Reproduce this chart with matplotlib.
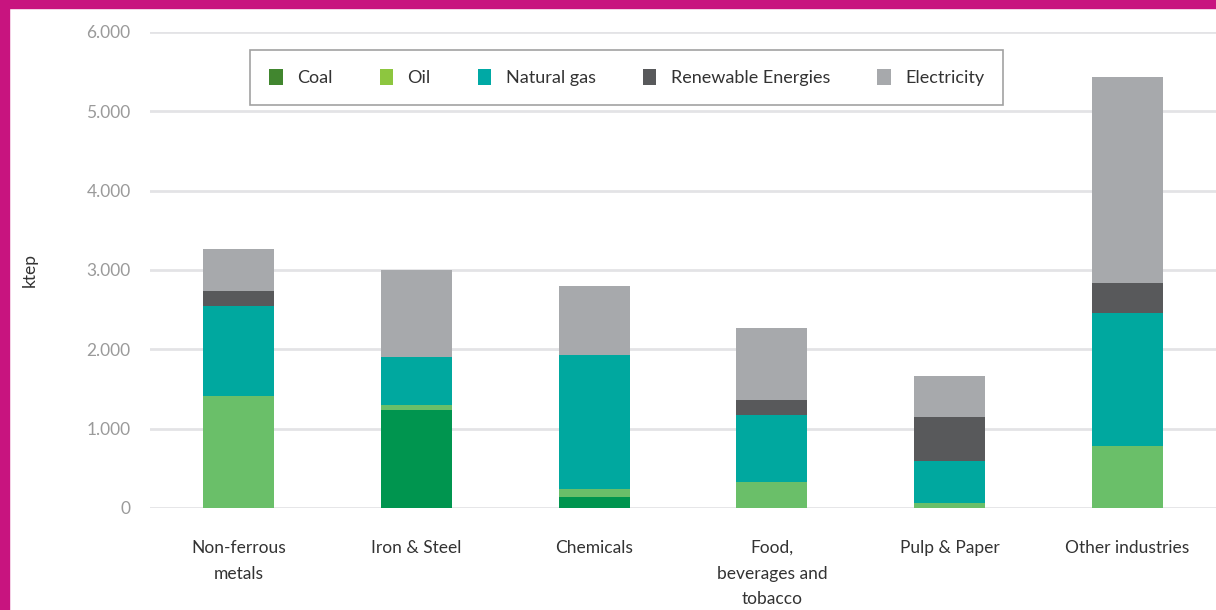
import matplotlib
matplotlib.use("Agg")
import matplotlib.pyplot as plt
from matplotlib.patches import Patch, Rectangle
from matplotlib.ticker import FuncFormatter
import numpy as np

# Final energy consumption by industry sector (ktep)
sectors = ["Non-ferrous\nmetals", "Iron & Steel", "Chemicals",
           "Food,\nbeverages and\ntobacco", "Pulp & Paper", "Other industries"]
coal = [0, 1236, 140, 0, 0, 0]
oil = [1412, 64, 100, 328, 60, 782]
natural_gas = [1135, 604, 1690, 845, 530, 1678]
renewables = [189, 0, 0, 189, 560, 377]
electricity = [529, 1096, 870, 908, 515, 2598]

series = [("Coal", coal, "#00954f", "#41862f"),
          ("Oil", oil, "#6abf69", "#8dc63f"),
          ("Natural gas", natural_gas, "#00a89f", "#00a9a5"),
          ("Renewable Energies", renewables, "#58595b", "#58595b"),
          ("Electricity", electricity, "#a7a9ac", "#a7a9ac")]

plt.rcParams["font.family"] = ["Lato", "DejaVu Sans"]

fig = plt.figure(figsize=(12.16, 6.10), dpi=100)
ax = fig.add_axes([150 / 1216, 102 / 610, 1066 / 1216, 476 / 610])

x = np.arange(len(sectors))
bottom = np.zeros(len(sectors))
for name, vals, color, _ in series:
    ax.bar(x, vals, width=0.4, bottom=bottom, color=color, zorder=3)
    bottom += np.array(vals)

ax.set_xlim(-0.5, 5.5)
ax.set_ylim(0, 6000)
ax.set_yticks(range(0, 6001, 1000))
ax.yaxis.set_major_formatter(FuncFormatter(lambda v, p: f"{int(v):,}".replace(",", ".")))
ax.grid(axis="y", color="#e3e3e6", linewidth=2, zorder=0)
for s in ax.spines.values():
    s.set_visible(False)
ax.tick_params(axis="y", length=0, pad=14, labelsize=12.5, labelcolor="#9a9a9a")
ax.tick_params(axis="x", length=0, pad=23, labelsize=12.5, labelcolor="#333333")
ax.set_xticks(x)
ax.set_xticklabels(sectors, va="top", linespacing=1.75)
ax.set_ylabel("ktep", fontsize=12.5, color="#333333", labelpad=35)

handles = [Patch(facecolor=lc, edgecolor="none") for _, _, _, lc in series]
leg = ax.legend(handles, [s[0] for s in series], ncol=5, loc="upper left",
                bbox_to_anchor=(0.094, 0.962), borderaxespad=0, fontsize=13,
                frameon=True, fancybox=False, edgecolor="#8a8a8a",
                handlelength=0.75, handleheight=0.95, handletextpad=0.8,
                columnspacing=2.6, borderpad=1.05)
leg.get_frame().set_linewidth(1.2)
for t in leg.get_texts():
    t.set_color("#333333")

# magenta frame around the picture
fig.patches.append(Rectangle((0, 1 - 8 / 610), 1, 8 / 610, transform=fig.transFigure,
                             color="#c8147f", zorder=10))
fig.patches.append(Rectangle((0, 0), 9 / 1216, 1, transform=fig.transFigure,
                             color="#c8147f", zorder=10))

fig.savefig("out.png", dpi=100)
